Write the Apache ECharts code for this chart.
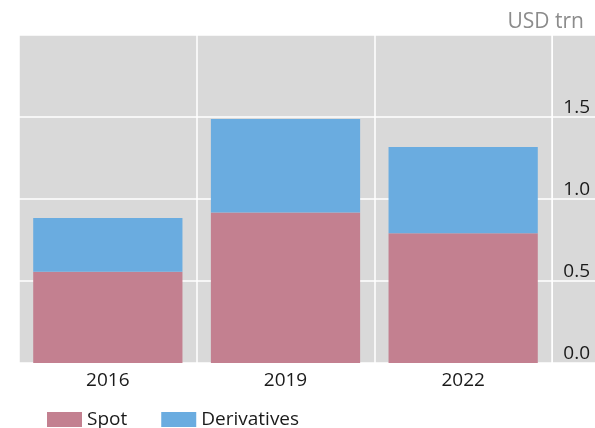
<!DOCTYPE html>
<html>
<head>
<meta charset="utf-8">
<script src="https://cdn.jsdelivr.net/npm/echarts@6/dist/echarts.min.js"></script>
<style>
  html, body { margin: 0; padding: 0; background: #fff; }
  #chart { width: 595px; height: 428px; }
</style>
</head>
<body>
<div id="chart"></div>
<script>
var years = ['2016', '2019', '2022'];
var spot = [0.557, 0.917, 0.791];
var derivatives = [0.327, 0.571, 0.526];

var myChart = echarts.init(document.getElementById('chart'));
var font = '"Open Sans", "Noto Sans", sans-serif';

var option = {
    animation: false,
    textStyle: { fontFamily: font },
    title: {
        text: 'USD trn',
        right: 6,
        top: 7,
        textStyle: { color: '#8c8c8c', fontSize: 21, fontWeight: 'normal', fontFamily: font }
    },
    legend: {
        left: 42,
        top: 405,
        itemWidth: 35,
        itemHeight: 15,
        itemGap: 34,
        icon: 'rect',
        textStyle: { color: '#1a1a1a', fontSize: 19, fontFamily: font },
        data: ['Spot', 'Derivatives']
    },
    grid: [
        { left: 19, right: 43, top: 35, bottom: 65, show: true, backgroundColor: '#d9d9d9', borderWidth: 0 },
        { left: 553, right: 0, top: 35, bottom: 65, show: true, backgroundColor: '#d9d9d9', borderWidth: 0 }
    ],
    xAxis: [{
        gridIndex: 0,
        type: 'category',
        data: years,
        axisLine: { show: false },
        axisTick: { show: false },
        splitLine: { show: true, interval: 0, lineStyle: { color: '#ffffff', width: 1.5 } },
        axisLabel: { color: '#1a1a1a', fontSize: 19, margin: 8, fontFamily: font }
    }, {
        gridIndex: 1,
        type: 'value',
        show: false
    }],
    yAxis: [{
        gridIndex: 0,
        type: 'value',
        min: 0, max: 2, interval: 0.5,
        axisLine: { show: false },
        axisTick: { show: false },
        axisLabel: { show: false },
        splitLine: { show: true, lineStyle: { color: '#ffffff', width: 1.5 } }
    }, {
        gridIndex: 1,
        type: 'value',
        position: 'right',
        min: 0, max: 2, interval: 0.5,
        axisLine: { show: false },
        axisTick: { show: false },
        splitLine: { show: true, lineStyle: { color: '#ffffff', width: 1.5 } },
        axisLabel: {
            inside: true,
            margin: 5,
            align: 'right',
            verticalAlign: 'bottom',
            color: '#1a1a1a',
            fontSize: 19,
            fontFamily: font,
            formatter: function (v) {
                if (v >= 2) return '';
                return v.toFixed(1);
            }
        }
    }],
    series: [{
        name: 'Spot',
        type: 'bar',
        stack: 'total',
        barWidth: '84%',
        itemStyle: { color: '#c38090' },
        data: spot
    }, {
        name: 'Derivatives',
        type: 'bar',
        stack: 'total',
        barWidth: '84%',
        itemStyle: { color: '#6aace0' },
        data: derivatives
    }]
};
myChart.setOption(option);
</script>
</body>
</html>
